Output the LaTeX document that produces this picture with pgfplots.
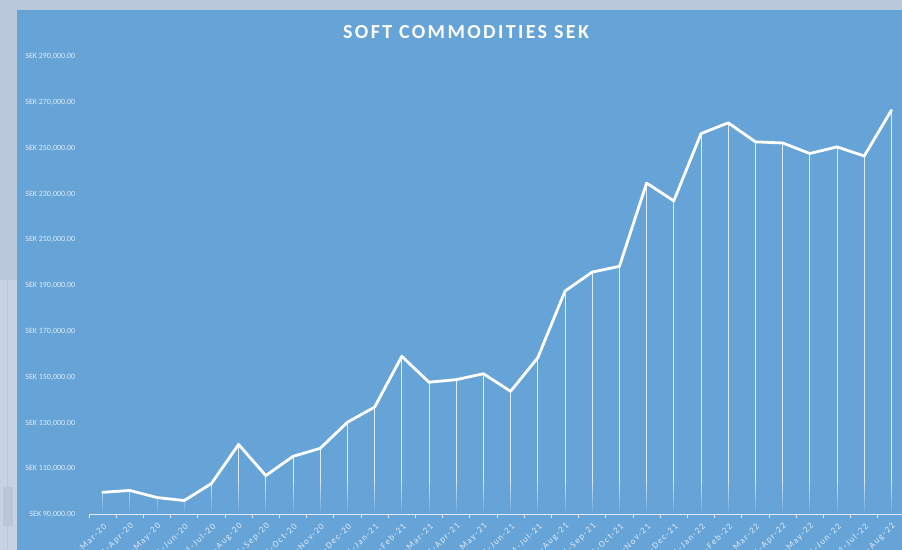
\documentclass[border=0pt]{standalone}
\usepackage{pgfplots}
\pgfplotsset{compat=1.18}
\usepackage{fontspec}
\setmainfont{Carlito}
\usetikzlibrary{fadings}
\tikzfading[name=myfade, top color=transparent!100, bottom color=transparent!0]
\definecolor{bgblue}{RGB}{102,164,216}
\definecolor{frametop}{RGB}{185,200,218}
\definecolor{framelow}{RGB}{199,211,226}
\definecolor{framedark}{RGB}{186,199,215}
\definecolor{lbl}{RGB}{225,234,245}
\pgfplotstableread{
x y
0 99700
1 100500
2 97400
3 96100
4 103500
5 120600
6 107000
7 115400
8 118900
9 130300
10 136900
11 159100
12 147800
13 148900
14 151500
15 143800
16 158500
17 187600
18 195900
19 198400
20 234800
21 227000
22 256400
23 261100
24 252800
25 252300
26 247700
27 250600
28 246600
29 266600
}\datatable
\begin{document}
\begin{tikzpicture}[x=1bp,y=1bp]
\useasboundingbox (0,0) rectangle (902,550);
\clip (0,0) rectangle (902,550);
\fill[frametop] (0,0) rectangle (902,550);
\fill[framelow] (0,0) rectangle (17,270);
\fill[framedark] (3,24) rectangle (13,63);
\draw[framedark, line width=0.6bp] (7,0) -- (7,270);
\fill[bgblue] (17,0) rectangle (902,540);
\node[white, font=\bfseries\fontsize{20}{24}\selectfont\addfontfeatures{LetterSpace=12}] at (466,517.5) {SOFT COMMODITIES SEK};
\begin{axis}[
  at={(89bp,35.5bp)}, anchor=south west, scale only axis,
  width=816bp, height=457.8bp,
  xmin=-0.5, xmax=29.5, ymin=90000, ymax=290000,
  scaled y ticks=false,
  axis x line*=bottom, axis y line*=left,
  y axis line style={draw=none},
  x axis line style={draw=lbl, line width=0.8bp},
  xtick={0,...,29},
  xticklabels={1-Mar-20,1-Apr-20,1-May-20,1-Jun-20,1-Jul-20,1-Aug-20,1-Sep-20,1-Oct-20,1-Nov-20,1-Dec-20,1-Jan-21,1-Feb-21,1-Mar-21,1-Apr-21,1-May-21,1-Jun-21,1-Jul-21,1-Aug-21,1-Sep-21,1-Oct-21,1-Nov-21,1-Dec-21,1-Jan-22,1-Feb-22,1-Mar-22,1-Apr-22,1-May-22,1-Jun-22,1-Jul-22,1-Aug-22},
  major x tick style={draw=none},
  minor xtick={-0.5,0.5,...,29.5},
  minor x tick style={draw=lbl, line width=0.8bp},
  minor tick length=4bp,
  tick align=outside,
  ytick={90000,110000,...,290000},
  yticklabels={SEK 90{,}000.00,SEK 110{,}000.00,SEK 130{,}000.00,SEK 150{,}000.00,SEK 170{,}000.00,SEK 190{,}000.00,SEK 210{,}000.00,SEK 230{,}000.00,SEK 250{,}000.00,SEK 270{,}000.00,SEK 290{,}000.00},
  ytick style={draw=none},
  yticklabel style={font=\fontsize{8}{9}\selectfont, text=lbl, anchor=east, xshift=-6bp},
  xticklabel style={font=\fontsize{9}{10}\selectfont\addfontfeatures{LetterSpace=15}, text=lbl, rotate=45, anchor=east, xshift=1bp, yshift=-6bp},
  clip=true,
]
\addplot[ycomb, draw=white, opacity=0.8, line width=0.8bp, mark=none] table[x=x,y=y] {\datatable};
\fill[bgblue, path fading=myfade] (axis cs:-0.5,90000) rectangle (axis cs:29.5,106000);
\addplot[draw=white, line width=2.8bp, line join=round, line cap=round, mark=none] table[x=x,y=y] {\datatable};
\end{axis}
\end{tikzpicture}
\end{document}
